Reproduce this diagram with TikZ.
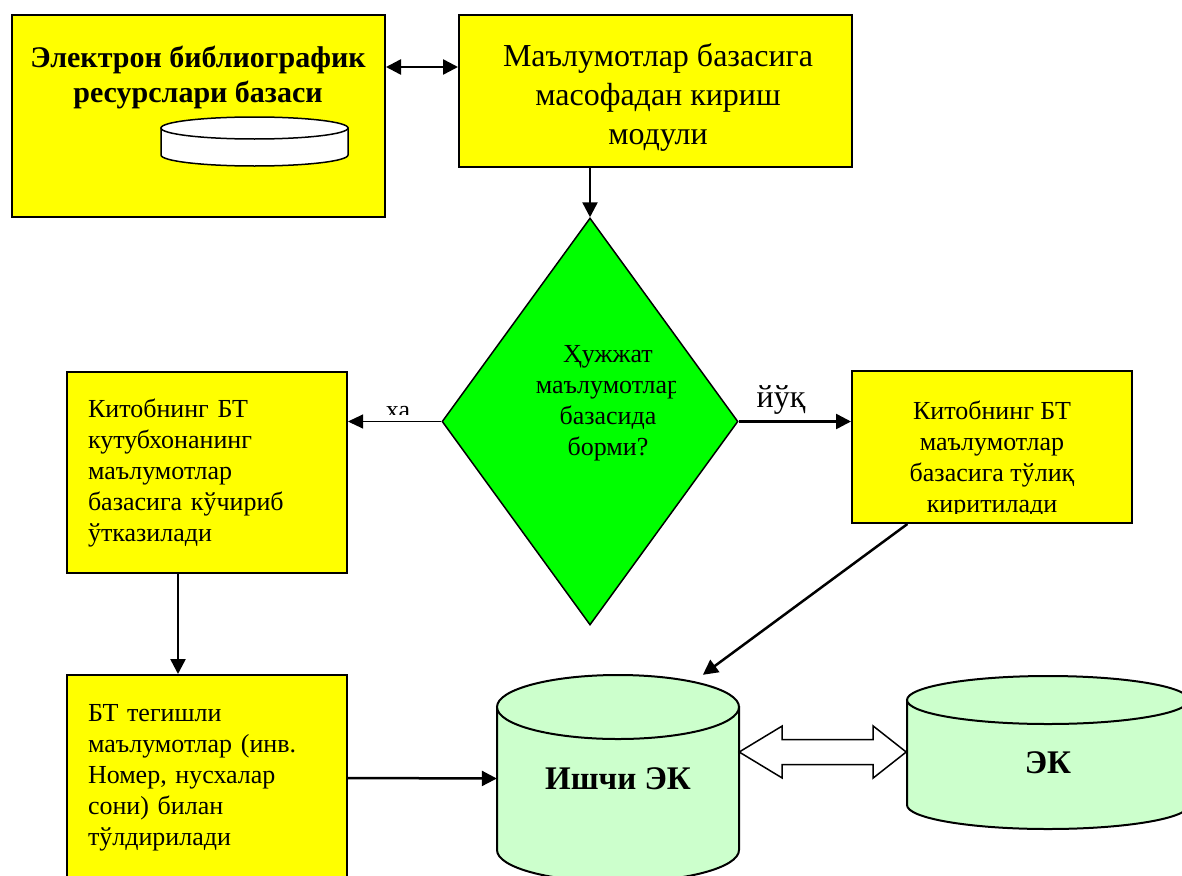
\documentclass[tikz,border=0pt]{standalone}
\usepackage{fontspec}
\setmainfont{Liberation Serif}
\usetikzlibrary{shapes.geometric,arrows.meta,calc}

\definecolor{boxyellow}{RGB}{255,255,0}
\definecolor{diagreen}{RGB}{0,255,0}
\definecolor{ekgreen}{RGB}{204,255,204}

\tikzset{
  ybox/.style={draw=black, line width=2pt, fill=boxyellow, inner sep=0pt},
  conn/.style={line width=2.5pt, -{Triangle[length=15pt,width=15pt]}},
  thinconn/.style={line width=1pt, -{Triangle[length=15pt,width=14pt]}},
  cyl/.style={draw=black, line width=2pt, fill=ekgreen},
  small/.style={font=\fontsize{26}{31}\selectfont},
}

\begin{document}
\begin{tikzpicture}[x=1pt,y=-1pt]
\useasboundingbox (0,0) rectangle (1182,875);

% top row
\node[ybox, minimum width=373pt, minimum height=202pt] (ebr) at (198.5,116) {};
\node[font=\fontsize{30}{35}\selectfont\bfseries, align=center] (ebrtxt) at (198,77) {Электрон библиографик\\ресурслари базаси};
\draw[line width=1.5pt, fill=white] (161,128) -- (161,155) arc[start angle=180, end angle=0, x radius=93.5, y radius=11] -- (348,128) -- cycle;
\draw[line width=1.5pt, fill=white] (254.5,128) ellipse [x radius=93.5, y radius=11];

\node[ybox, minimum width=393pt, minimum height=152pt] (mod) at (655.5,91) {};
\node[font=\fontsize{32}{39}\selectfont, align=center] (modtxt) at (658,97) {Маълумотлар базасига\\масофадан кириш\\модули};

\draw[line width=2.5pt, {Triangle[length=15pt,width=15pt]}-{Triangle[length=15pt,width=15pt]}] ([yshift=49pt]ebr.east) -- ([yshift=49pt]ebr.east -| mod.west);

% decision
\node[diamond, draw=black, line width=1.5pt, fill=diagreen, minimum width=296pt, minimum height=407pt, inner sep=0pt] (dia) at (590,421.5) {};
\begin{scope}
  \clip (520,330) rectangle (675,470);
  \node[small, align=center] (diatxt) at (608,403) {Ҳужжат\\маълумотлар\\базасида\\борми?};
\end{scope}
\draw[conn] (mod.south -| dia.north) -- (dia.north);

% side boxes
\node[ybox, minimum width=280pt, minimum height=201pt, text width=238pt, inner xsep=21pt, align=left, small] (lbox) at (207,472.5) {Китобнинг БТ\\кутубхонанинг\\маълумотлар\\базасига кўчириб\\ўтказилади};
\node[ybox, minimum width=280pt, minimum height=152pt] (rbox) at (992,447) {};
\begin{scope}
  \clip (rbox.north west) rectangle ([yshift=11pt]rbox.south east);
  \node[small, align=center] (rboxtxt) at (992,459) {Китобнинг БТ\\маълумотлар\\базасига тўлиқ\\киритилади};
\end{scope}

\draw[thinconn] (dia.west) -- (dia.west -| lbox.east);
\begin{scope}
  \clip (370,390) rectangle (430,414);
  \node[small] (yes) at (398,413) {ха};
\end{scope}
\draw[conn] (dia.east) -- (dia.east -| rbox.west);
\node[font=\fontsize{32}{38}\selectfont] (no) at (781,400) {йўқ};

\node[ybox, minimum width=280pt, minimum height=206pt, text width=238pt, inner xsep=21pt, align=left, small] (fbox) at (207,778) {БТ тегишли\\маълумотлар (инв.\\Номер, нусхалар\\сони) билан\\тўлдирилади};
\draw[conn] ([xshift=-29pt]lbox.south) -- ([xshift=-29pt]lbox.south |- fbox.north);

% catalogues
\draw[cyl] (497,707) -- (497,850) arc[start angle=180, end angle=0, x radius=121, y radius=32] -- (739,707) -- cycle;
\draw[cyl] (618,707) ellipse [x radius=121, y radius=32];
\node[minimum width=242pt, minimum height=207pt, inner sep=0pt, font=\fontsize{33}{40}\selectfont\bfseries] (ishchi) at (618,778.5) {Ишчи ЭК};

\draw[cyl] (907,700) -- (907,805) arc[start angle=180, end angle=0, x radius=141, y radius=24] -- (1189,700) -- cycle;
\draw[cyl] (1048,700) ellipse [x radius=141, y radius=24];
\node[minimum width=282pt, minimum height=152pt, inner sep=0pt, text height=42pt, text depth=0pt, font=\fontsize{33}{40}\selectfont\bfseries] (ek) at (1048,752) {ЭК};

\draw[line width=1.5pt, fill=white] (ishchi.east |- ek.west) -- ++(43,-26) -- ++(0,13.5) -- ++(91,0) -- ++(0,-13.5) -- ++(33,26) -- ++(-33,26) -- ++(0,-13.5) -- ++(-91,0) -- ++(0,13.5) -- cycle;

\draw[conn] (fbox.east) -- (ishchi.west);
\draw[conn] ($(rbox.south west)!0.2!(rbox.south east)$) -- ($(ishchi.north)!0.7!(ishchi.north east)$);
\end{tikzpicture}
\end{document}
